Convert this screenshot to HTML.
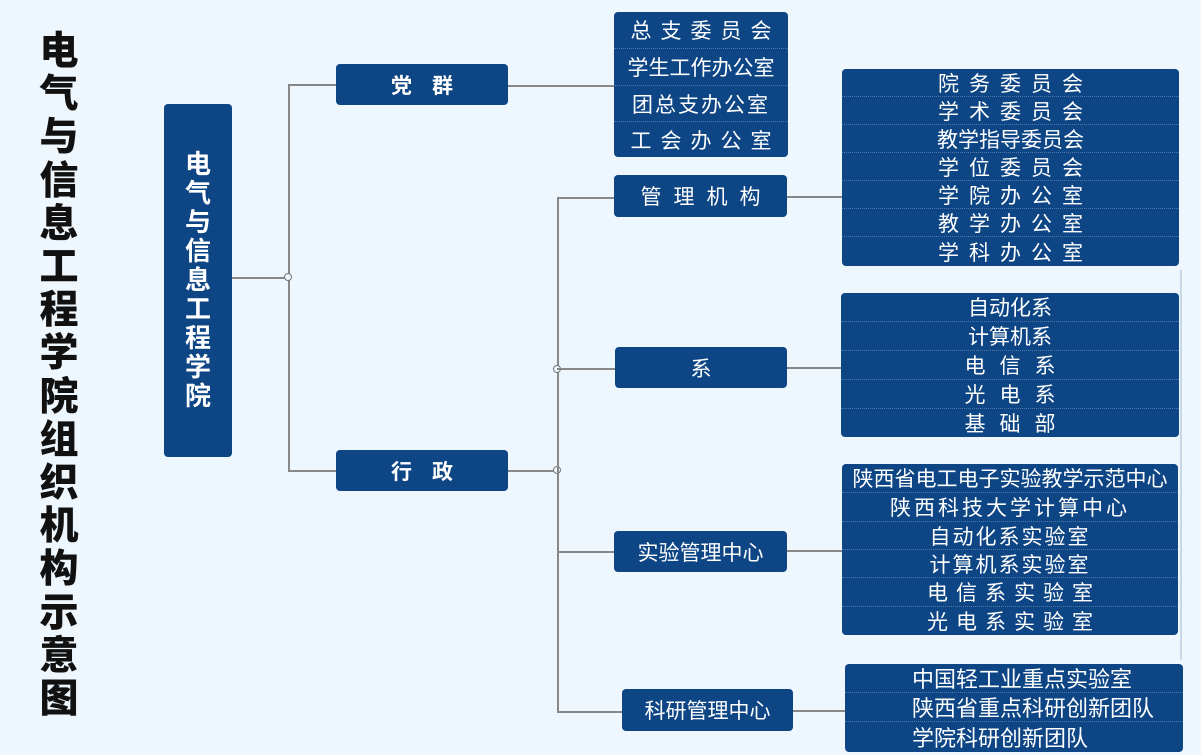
<!DOCTYPE html>
<html><head><meta charset="utf-8"><style>
body{margin:0;width:1201px;height:755px;background:#eef7fd;position:relative;overflow:hidden;font-family:"Liberation Sans","Noto Sans CJK SC",sans-serif}
.t{position:absolute;left:32px;top:30px;width:54px;font-size:39px;font-weight:900;line-height:43.2px;text-align:center;color:#111}
.b{position:absolute;background:#0d4585;color:#fff;border-radius:4px;display:flex;align-items:center;justify-content:center;font-size:21px}
.l{position:absolute;background:#0d4585;border-radius:4px;color:#fff;overflow:hidden}
.l div{display:flex;align-items:center;justify-content:center;border-bottom:1px dotted #4d78aa;box-sizing:border-box;font-size:21px}
.l div:last-child{border-bottom:none}
.h{position:absolute;background:#888;height:1.5px}
.v{position:absolute;background:#888;width:1.5px}
.d{position:absolute;width:6px;height:6px;border:1px solid #777;border-radius:50%;background:#eef7fd}
</style></head><body>
<div class="t">电<br>气<br>与<br>信<br>息<br>工<br>程<br>学<br>院<br>组<br>织<br>机<br>构<br>示<br>意<br>图</div>
<div class="b" style="left:164px;top:104px;width:68px;height:353px;font-size:26px;font-weight:bold;line-height:29px;text-align:center">电<br>气<br>与<br>信<br>息<br>工<br>程<br>学<br>院</div>
<div class="h" style="left:232px;top:277px;width:56px"></div>
<div class="v" style="left:288px;top:84px;height:387px"></div>
<div class="h" style="left:288px;top:84px;width:48px"></div>
<div class="h" style="left:288px;top:470px;width:48px"></div>
<div class="d" style="left:284px;top:273px"></div>
<div class="b" style="left:336px;top:64px;width:172px;height:41px;font-weight:bold;letter-spacing:20px;padding-left:20px;box-sizing:border-box">党群</div>
<div class="b" style="left:336px;top:450px;width:172px;height:41px;font-weight:bold;letter-spacing:20px;padding-left:20px;box-sizing:border-box">行政</div>
<div class="h" style="left:508px;top:85px;width:106px"></div>
<div class="l" style="left:614px;top:12px;width:174px;height:145px">
<div style="height:37px;letter-spacing:9px;padding-left:9px">总支委员会</div><div style="height:37px">学生工作办公室</div><div style="height:36px;letter-spacing:2px">团总支办公室</div><div style="height:35px;letter-spacing:9px;padding-left:9px">工会办公室</div></div>
<div class="h" style="left:508px;top:470px;width:49px"></div>
<div class="d" style="left:553px;top:466px"></div>
<div class="v" style="left:557px;top:197px;height:515px"></div>
<div class="d" style="left:553px;top:365px"></div>
<div class="h" style="left:557px;top:197px;width:57px"></div>
<div class="h" style="left:557px;top:368px;width:58px"></div>
<div class="h" style="left:557px;top:551px;width:57px"></div>
<div class="h" style="left:557px;top:711px;width:65px"></div>
<div class="b" style="left:614px;top:175px;width:173px;height:42px;letter-spacing:12px;padding-left:12px;box-sizing:border-box">管理机构</div>
<div class="b" style="left:615px;top:347px;width:172px;height:41px">系</div>
<div class="b" style="left:614px;top:531px;width:173px;height:41px">实验管理中心</div>
<div class="b" style="left:622px;top:689px;width:171px;height:42px">科研管理中心</div>
<div class="h" style="left:787px;top:196px;width:55px"></div>
<div class="h" style="left:787px;top:367px;width:54px"></div>
<div class="h" style="left:787px;top:550px;width:55px"></div>
<div class="h" style="left:793px;top:710px;width:52px"></div>
<div class="v" style="left:1180px;top:270px;height:390px;background:#c8d8e8"></div>
<div class="l" style="left:842px;top:69px;width:337px;height:197px">
<div style="height:28px;letter-spacing:10px;padding-left:10px">院务委员会</div><div style="height:28px;letter-spacing:10px;padding-left:10px">学术委员会</div><div style="height:28px">教学指导委员会</div><div style="height:28px;letter-spacing:10px;padding-left:10px">学位委员会</div><div style="height:28px;letter-spacing:10px;padding-left:10px">学院办公室</div><div style="height:28px;letter-spacing:10px;padding-left:10px">教学办公室</div><div style="height:29px;letter-spacing:10px;padding-left:10px">学科办公室</div></div>
<div class="l" style="left:841px;top:293px;width:338px;height:144px">
<div style="height:29px">自动化系</div><div style="height:29px">计算机系</div><div style="height:29px;letter-spacing:14px;padding-left:14px">电信系</div><div style="height:29px;letter-spacing:14px;padding-left:14px">光电系</div><div style="height:28px;letter-spacing:14px;padding-left:14px">基础部</div></div>
<div class="l" style="left:842px;top:464px;width:336px;height:171px">
<div style="height:29px">陕西省电工电子实验教学示范中心</div><div style="height:29px;letter-spacing:3px">陕西科技大学计算中心</div><div style="height:28px;letter-spacing:2px">自动化系实验室</div><div style="height:28px;letter-spacing:2px">计算机系实验室</div><div style="height:29px;letter-spacing:8px;padding-left:8px">电信系实验室</div><div style="height:28px;letter-spacing:8px;padding-left:8px">光电系实验室</div></div>
<div class="l" style="left:845px;top:664px;width:338px;height:88px">
<div style="height:29px;justify-content:flex-start;padding-left:67px;font-size:22px">中国轻工业重点实验室</div><div style="height:29px;justify-content:flex-start;padding-left:67px;font-size:22px">陕西省重点科研创新团队</div><div style="height:30px;justify-content:flex-start;padding-left:67px;font-size:22px">学院科研创新团队</div></div>
</body></html>
